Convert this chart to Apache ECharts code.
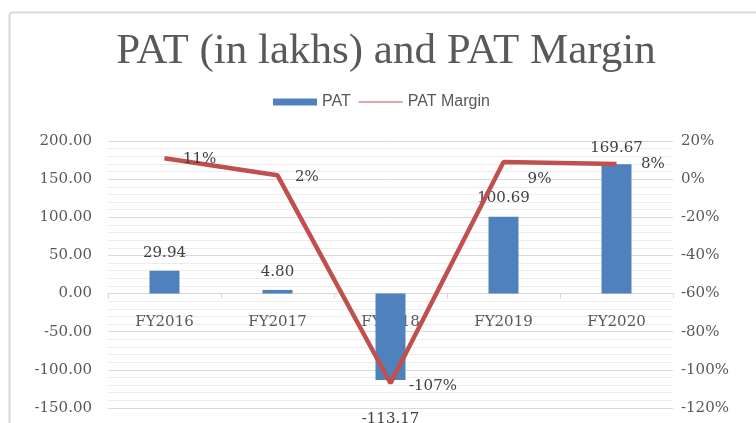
<!DOCTYPE html>
<html>
<head>
<meta charset="utf-8">
<script src="https://cdn.jsdelivr.net/npm/echarts@6/dist/echarts.min.js"></script>
<style>html,body{margin:0;padding:0;background:#fff}#chart{width:756px;height:423px}</style>
</head>
<body>
<div id="chart"></div>
<script>
const categories = ['FY2016', 'FY2017', 'FY2018', 'FY2019', 'FY2020'];
const patValues = [29.94, 4.80, -113.17, 100.69, 169.67];
const marginValues = [11, 2, -107, 9, 8];
const leftAxisMin = -150, leftAxisMax = 200, leftAxisStep = 50;
const rightAxisMin = -120, rightAxisMax = 20, rightAxisStep = 20;

const labelFont = 'DejaVu Serif';
const barLabelCfg = [
  {position: 'top', distance: 10},
  {position: 'top', distance: 10},
  {position: 'bottom', distance: 32},
  {position: 'top', distance: 11},
  {position: 'top', distance: 9}
];
const lineLabelCfg = [
  {position: 'right', distance: 18, offset: [0, 1]},
  {position: 'right', distance: 17, offset: [0, 2]},
  {position: 'right', distance: 18, offset: [0, 3]},
  {position: 'bottom', distance: 9, offset: [36, 0]},
  {position: 'right', distance: 24, offset: [0, 0]}
];

const chart = echarts.init(document.getElementById('chart'), null, {renderer: 'canvas'});
chart.setOption({
  animation: false,
  backgroundColor: '#ffffff',
  graphic: [{
    type: 'rect', left: 7, top: 10, shape: {x: 0, y: 0, width: 770, height: 440, r: 3},
    style: {fill: 'none', stroke: '#d9d9d9', lineWidth: 2}, z: -1
  }],
  title: {
    text: 'PAT (in lakhs) and PAT Margin',
    left: 381, top: 25, textAlign: 'center',
    textStyle: {fontFamily: 'Liberation Serif', fontSize: 43, fontWeight: 'normal', color: '#595959'}
  },
  legend: {
    left: 273, top: 94, padding: 0,
    itemWidth: 44, itemHeight: 7, itemGap: 8,
    textStyle: {fontFamily: 'Liberation Sans', fontSize: 16, color: '#595959'},
    data: [
      {name: 'PAT', icon: 'rect'},
      {name: 'PAT Margin', icon: 'path://M0,0 M0,2.4 L100,2.4 L100,4.6 L0,4.6 Z M100,7', itemStyle: {color: '#C0504D'}}
    ]
  },
  grid: {left: 108, right: 83, top: 141, bottom: 15, outerBoundsMode: 'none', containLabel: false},
  xAxis: {
    type: 'category', data: categories,
    axisLine: {onZero: false, lineStyle: {color: '#d9d9d9', width: 1}},
    axisTick: {show: true, length: 5, lineStyle: {color: '#d9d9d9'}},
    axisLabel: {show: true, margin: 21, fontFamily: labelFont, fontSize: 15, color: '#595959'},
    z: 1
  },
  yAxis: [{
    type: 'value', min: leftAxisMin, max: leftAxisMax, interval: leftAxisStep,
    axisLine: {show: false}, axisTick: {show: false},
    axisLabel: {margin: 16, fontFamily: labelFont, fontSize: 15, color: '#595959',
      formatter: v => v.toFixed(2)},
    splitLine: {lineStyle: {color: '#d9d9d9'}},
    minorTick: {show: false, splitNumber: 5},
    minorSplitLine: {show: true, lineStyle: {color: '#ececec'}}
  }, {
    type: 'value', min: rightAxisMin, max: rightAxisMax, interval: rightAxisStep,
    axisLine: {show: false}, axisTick: {show: false},
    axisLabel: {margin: 8, fontFamily: labelFont, fontSize: 15, color: '#595959',
      formatter: v => v + '%'},
    splitLine: {show: false}
  }],
  series: [{
    name: 'PAT', type: 'bar', barWidth: 30,
    itemStyle: {color: '#4F81BD'},
    data: patValues.map((v, i) => ({
      value: v,
      label: {show: true, position: barLabelCfg[i].position, distance: barLabelCfg[i].distance,
        fontFamily: labelFont, fontSize: 15, color: '#404040', formatter: p => p.value.toFixed(2)}
    })),
    z: 2
  }, {
    name: 'PAT Margin', type: 'line', yAxisIndex: 1,
    symbol: 'circle', symbolSize: 1, showSymbol: true,
    lineStyle: {color: '#C0504D', width: 4.5},
    itemStyle: {color: '#C0504D'},
    data: marginValues.map((v, i) => ({
      value: v,
      label: {show: true, position: lineLabelCfg[i].position, distance: lineLabelCfg[i].distance,
        offset: lineLabelCfg[i].offset,
        fontFamily: labelFont, fontSize: 15, color: '#404040', formatter: p => p.value + '%'}
    })),
    z: 3
  }]
});
// Place the category axis on the zero value, using the library's own scale.
const zeroY = chart.convertToPixel({yAxisIndex: 0}, 0);
const bottomY = chart.convertToPixel({yAxisIndex: 0}, leftAxisMin);
chart.setOption({xAxis: {offset: zeroY - bottomY}});
</script>
</body>
</html>
